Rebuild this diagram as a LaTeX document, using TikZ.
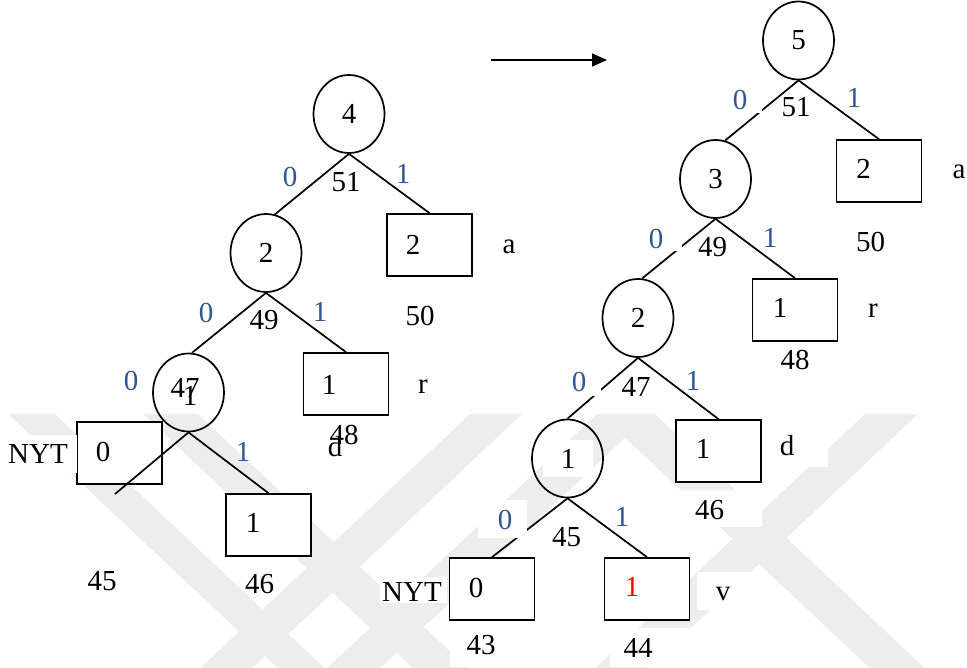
\documentclass[tikz,border=0pt]{standalone}
\usepackage{fontspec}
\setmainfont{Liberation Serif}
\usetikzlibrary{shapes.geometric,arrows.meta}
\definecolor{bitblue}{RGB}{47,85,151}
\definecolor{wmark}{RGB}{237,237,237}
\begin{document}
\begin{tikzpicture}[x=1pt,y=-1pt,
  every node/.style={font=\fontsize{29}{31}\selectfont, inner sep=1pt},
  tnode/.style={ellipse, draw, line width=1.7pt, minimum width=71pt, minimum height=78pt, inner sep=0pt},
  leaf/.style={rectangle, draw, fill=white, line width=1.7pt, minimum width=85pt, minimum height=62pt, inner sep=0pt},
  edge/.style={line width=1.7pt},
  bit/.style={text=bitblue},
  patch/.style={fill=white}]
\useasboundingbox (0,0) rectangle (967,667);

% faint background bands
\begin{scope}
  \clip (0,414) rectangle (967,667);
  \fill[wmark] (8,414) -- (55,414) -- (331,674) -- (284,674) -- cycle;
  \fill[wmark] (143,414) -- (198,414) -- (474,674) -- (419,674) -- cycle;
  \fill[wmark] (600,414) -- (655,414) -- (931,674) -- (876,674) -- cycle;
  \fill[wmark] (470,414) -- (522,414) -- (246,674) -- (194,674) -- cycle;
  \fill[wmark] (597,414) -- (650,414) -- (374,674) -- (321,674) -- cycle;
  \fill[wmark] (865,414) -- (918,414) -- (642,674) -- (589,674) -- cycle;
\end{scope}

% ---------- tree before the update ----------
\node[tnode] (n4) at (349,114) {4};
\node[tnode] (n2a) at (266,253) {2};
\node[tnode] (n47) at (188.5,392.5) {};
\node[leaf] (la) at (429.5,245) {};
\node[leaf] (lr) at (346,384) {};
\node[leaf] (lnyt) at (119.5,453) {};
\node[leaf] (l1) at (268.5,525) {};
\coordinate (lend) at (115,494);

\draw[edge] (n4.south) -- (n2a.77);
\draw[edge] (n4.south) -- (la.north);
\draw[edge] (n2a.south) -- (n47.85);
\draw[edge] (n2a.south) -- (lr.north);
\draw[edge] (n47.south) -- (lend);
\draw[edge] (n47.south) -- (l1.north);

% ---------- tree after the update ----------
\node[tnode] (m5) at (798.5,40.5) {5};
\node[tnode] (m3) at (715.5,179) {3};
\node[tnode] (m2) at (638,318) {2};
\node[tnode] (m1) at (567.5,458.5) {};
\node[leaf] (ma) at (879,171) {};
\node[leaf] (mr) at (795,310) {};
\node[leaf] (md) at (718.5,451) {};
\node[leaf] (mnyt) at (492,589) {};
\node[leaf] (mv) at (647,589) {};

\draw[edge] (m5.south) -- (m3.76);
\draw[edge] (m5.south) -- (ma.north);
\draw[edge] (m3.south) -- (m2.84);
\draw[edge] (m3.south) -- (mr.north);
\draw[edge] (m2.south) -- (m1.north);
\draw[edge] (m2.south) -- (md.north);
\draw[edge] (m1.south) -- (mnyt.north);
\draw[edge] (m1.south) -- (mv.north);

% arrow between the two trees
\coordinate (arrS) at (491,60);
\coordinate (arrE) at (607,60);
\draw[edge, -{Triangle[length=15pt,width=13pt]}] (arrS) -- (arrE);

% white backings behind labels
\fill[patch] (727,88) rectangle (762,113);
\fill[patch] (644,228) rectangle (682,251);
\fill[patch] (567,370) rectangle (601,396);
\fill[patch] (478,500) rectangle (527,538);
\fill[patch] (618,505) rectangle (643,534);
\fill[patch] (543,440) rectangle (593,477);
\fill[patch] (676,490) rectangle (762,527);
\fill[patch] (762,430) rectangle (828,467);
\fill[patch] (697,572) rectangle (765,610);
\fill[patch] (450,628) rectangle (534,667);
\fill[patch] (610,628) rectangle (690,667);
\fill[patch] (380,577) rectangle (447,603);
\fill[patch] (0,435) rectangle (77,473);

% ---------- labels, first tree ----------
\node[bit] (b40) at (290,177) {0};
\node (w4) at (346,182) {51};
\node[bit] (b41) at (403,174) {1};
\node (ta) at (413,245) {2};
\node (sa) at (509,247) {a};
\node[bit] (b20) at (206,313) {0};
\node (w2) at (264,320) {49};
\node[bit] (b21) at (320,312) {1};
\node (wa) at (420,316) {50};
\node (tr) at (329,385) {1};
\node (sr) at (423,387) {r};
\node (wr) at (344,435) {48};
\node (sd) at (335,447) {d};
\node (w47) at (185,388) {47};
\node (t47) at (190,396) {1};
\node[bit] (b470) at (131,381) {0};
\node (tnyt) at (103,452) {0};
\node (snyt) at (38,454) {NYT};
\node[bit] (b471) at (243,452) {1};
\node (t1) at (253,523) {1};
\node (wnyt) at (102,581) {45};
\node (w1) at (259.5,584) {46};

% ---------- labels, second tree ----------
\node[bit] (c50) at (740,100) {0};
\node (v5) at (796,107) {51};
\node[bit] (c51) at (854,98) {1};
\node (ua) at (863.5,169) {2};
\node (qa) at (959,171.5) {a};
\node[bit] (c30) at (656,239) {0};
\node (v3) at (712.5,247) {49};
\node[bit] (c31) at (770,238) {1};
\node (va) at (870.5,242) {50};
\node (ur) at (780,308) {1};
\node (qr) at (873,311) {r};
\node (vr) at (795,360) {48};
\node[bit] (c20) at (579,382) {0};
\node (v2) at (636,387) {47};
\node[bit] (c21) at (693,381) {1};
\node (ud) at (703,449) {1};
\node (qd) at (787,446) {d};
\node (vd) at (709.5,510) {46};
\node (u1) at (568,459) {1};
\node[bit] (c10) at (505,520) {0};
\node (v1) at (566.5,537) {45};
\node[bit] (c11) at (622,517) {1};
\node (unyt) at (476,588) {0};
\node (qnyt) at (412,592) {NYT};
\node[text=red] (uv) at (632,587) {1};
\node (qv) at (723,594) {v};
\node (vnyt) at (481,645) {43};
\node (vv) at (638,648) {44};
\end{tikzpicture}
\end{document}
